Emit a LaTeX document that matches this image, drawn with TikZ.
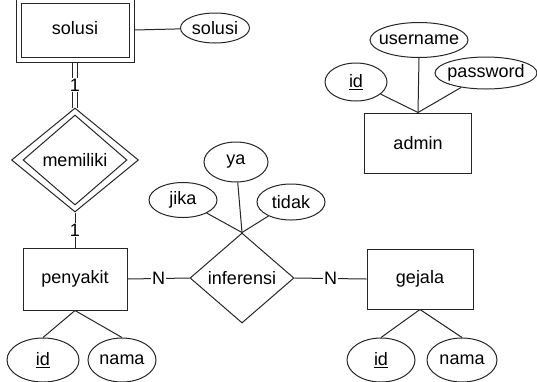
\documentclass[tikz,border=0pt]{standalone}
\usepackage{fontspec}
\setmainfont{Liberation Sans}
\usetikzlibrary{shapes.geometric}
\begin{document}
\begin{tikzpicture}[x=1pt,y=-1pt,
  every node/.style={font=\fontsize{18}{20}\selectfont, text=black},
  ln/.style={draw=black!85, line width=1pt},
  ent/.style={ln, rectangle, inner sep=0pt},
  att/.style={ln, ellipse, inner sep=0pt},
  rel/.style={ln, diamond, inner sep=0pt},
  card/.style={fill=white, inner sep=1pt}]
\useasboundingbox (0,0) rectangle (537,381);

% entities
\node[ent, minimum width=118pt, minimum height=64pt] (solo) at (75,30) {};
\node[ent, minimum width=108pt, minimum height=54pt] (sol) at (75,30) {};
\node (soltxt) at (75,28) {solusi};
\node[ent, minimum width=104pt, minimum height=62pt] (pen) at (75,279) {penyakit};
\node[ent, minimum width=106pt, minimum height=60pt] (gej) at (420,279) {gejala};
\node[ent, minimum width=107pt, minimum height=60pt] (adm) at (418,143) {admin};

% relationships
\node[rel, minimum width=127pt, minimum height=104pt] (mem) at (75,160) {};
\node[rel, minimum width=104pt, minimum height=90pt] (memi) at (75,160) {memiliki};
\node[rel, minimum width=104pt, minimum height=90pt] (inf) at (242,278) {inferensi};

% attributes
\node[att, minimum width=69pt, minimum height=30pt, label=center:solusi] (solA) at (215,28) {};
\node[att, minimum width=98pt, minimum height=35pt, label=center:username] (user) at (419,40) {};
\node[att, minimum width=62pt, minimum height=38pt, label=center:\underline{id}] (aid) at (356,82) {};
\node[att, minimum width=102pt, minimum height=32pt, label=center:password] (pass) at (486,73) {};
\node[att, minimum width=64pt, minimum height=40pt, label=center:ya] (ya) at (236,162) {};
\node[att, minimum width=68pt, minimum height=35pt, label=center:jika] (jika) at (183,200) {};
\node[att, minimum width=68pt, minimum height=36pt, label=center:tidak] (tidak) at (291,202) {};
\node[att, minimum width=72pt, minimum height=44pt, label=center:\underline{id}] (pid) at (43,360) {};
\node[att, minimum width=68pt, minimum height=44pt, label=center:nama] (pnama) at (122,360) {};
\node[att, minimum width=68pt, minimum height=44pt, label=center:\underline{id}] (gid) at (381,360) {};
\node[att, minimum width=70pt, minimum height=44pt, label=center:nama] (gnama) at (462,360) {};

% connectors
\draw[ln] (solo.east) -- (solA);
\draw[ln] ([xshift=-2.5pt]solo.south) -- ([xshift=-2.5pt]mem.north);
\draw[ln] ([xshift=2.5pt]solo.south) -- ([xshift=2.5pt]mem.north);
\path (solo.south) -- node[card]{1} (mem.north);
\draw[ln] (mem.south) -- node[card]{1} (pen.north);
\draw[ln] (pen.east) -- node[card]{N} (inf.west);
\draw[ln] (inf.east) -- node[card]{N} (gej.west);
\draw[ln] (inf.north) -- (jika);
\draw[ln] (inf.north) -- (ya);
\draw[ln] (inf.north) -- (tidak);
\draw[ln] (pen.south) -- (pid.north);
\draw[ln] (pen.south) -- (pnama.north);
\draw[ln] (gej.south) -- (gid.north);
\draw[ln] (gej.south) -- (gnama.north);
\draw[ln] (adm.north) -- (aid);
\draw[ln] (adm.north) -- (user.south);
\draw[ln] (adm.north) -- (pass);
\end{tikzpicture}
\end{document}
